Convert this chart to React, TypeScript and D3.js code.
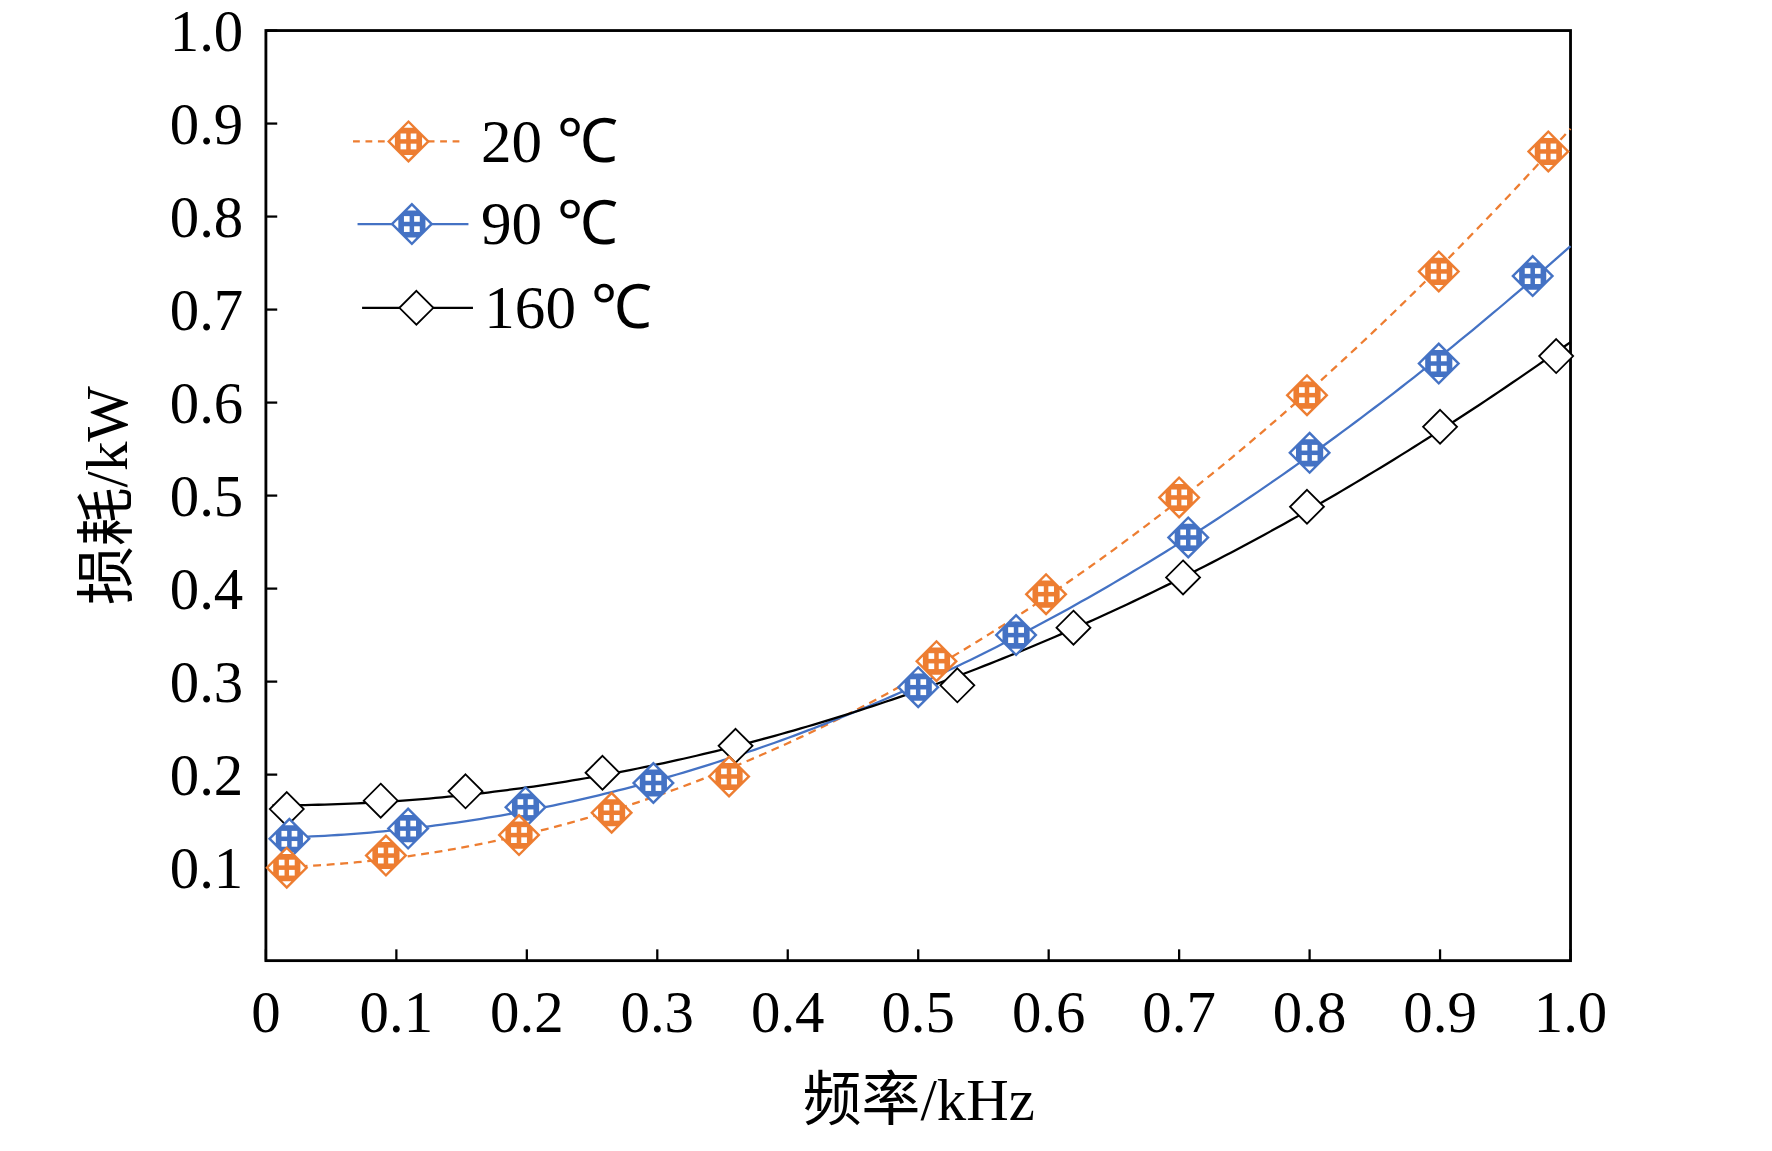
import * as React from 'react';
import * as d3 from 'd3';

// values
const x20 = [0.016, 0.092, 0.194, 0.265, 0.355, 0.514, 0.598, 0.700, 0.798, 0.899, 0.983];
const y20 = [0.100, 0.113, 0.135, 0.159, 0.198, 0.322, 0.394, 0.498, 0.608, 0.741, 0.870];
const x90 = [0.018, 0.109, 0.199, 0.297, 0.500, 0.575, 0.707, 0.800, 0.899, 0.971];
const y90 = [0.131, 0.142, 0.165, 0.191, 0.294, 0.350, 0.455, 0.546, 0.642, 0.736];
const x160 = [0.016, 0.088, 0.153, 0.258, 0.360, 0.530, 0.619, 0.703, 0.798, 0.900, 0.989];
const y160 = [0.163, 0.172, 0.182, 0.202, 0.231, 0.296, 0.358, 0.412, 0.488, 0.574, 0.650];
const xTicks = [0, 0.1, 0.2, 0.3, 0.4, 0.5, 0.6, 0.7, 0.8, 0.9, 1.0];
const yTicks = [0.1, 0.2, 0.3, 0.4, 0.5, 0.6, 0.7, 0.8, 0.9, 1.0];
const legendLabels = ['20 ℃', '90 ℃', '160 ℃'];

const serif = '"Liberation Serif", "Times New Roman", serif';

// quadratic least-squares trend line, like the spreadsheet trendline
function quadFit(xs: number[], ys: number[]) {
    const n = xs.length;
    let s = [0, 0, 0, 0, 0], t = [0, 0, 0];
    for (let i = 0; i < n; i++) {
        for (let k = 0; k < 5; k++) s[k] += Math.pow(xs[i], k);
        for (let k = 0; k < 3; k++) t[k] += ys[i] * Math.pow(xs[i], k);
    }
    const A = [[s[0], s[1], s[2], t[0]], [s[1], s[2], s[3], t[1]], [s[2], s[3], s[4], t[2]]];
    for (let i = 0; i < 3; i++) {
        for (let j = i + 1; j < 3; j++) {
            const f = A[j][i] / A[i][i];
            for (let k = i; k < 4; k++) A[j][k] -= f * A[i][k];
        }
    }
    const c = [0, 0, 0];
    for (let i = 2; i >= 0; i--) {
        let v = A[i][3];
        for (let k = i + 1; k < 3; k++) v -= A[i][k] * c[k];
        c[i] = v / A[i][i];
    }
    return (x: number) => c[0] + c[1] * x + c[2] * x * x;
}

const Arrow: React.FC<{ x: number; y: number; color: string }> = ({ x, y, color }) => {
    const r = 19;
    return (
        <g transform={`translate(${x},${y})`}>
            <path d={`M0,${-r}L${r},0L0,${r}L${-r},0Z`} fill={color} />
            <rect x={-7} y={-7} width={5} height={5} fill="#fff" />
            <rect x={2} y={-7} width={5} height={5} fill="#fff" />
            <rect x={-7} y={2} width={5} height={5} fill="#fff" />
            <rect x={2} y={2} width={5} height={5} fill="#fff" />
            <path d={`M-4,${-r + 7}L0,${-r + 3}L4,${-r + 7}Z`} fill="#fff" />
            <path d={`M-4,${r - 7}L0,${r - 3}L4,${r - 7}Z`} fill="#fff" />
            <path d={`M${-r + 7},-4L${-r + 3},0L${-r + 7},4Z`} fill="#fff" />
            <path d={`M${r - 7},-4L${r - 3},0L${r - 7},4Z`} fill="#fff" />
        </g>
    );
};

const Hollow: React.FC<{ x: number; y: number }> = ({ x, y }) => (
    <path transform={`translate(${x},${y})`} d="M0,-15L15,0L0,15L-15,0Z" fill="#fff" stroke="#000" strokeWidth={1.6} />
);

const App: React.FC = () => {
    const xs = d3.scaleLinear().domain([0, 1]).range([235, 1388]);
    const ys = d3.scaleLinear().domain([0, 1]).range([849, 27]);
    const fineX = d3.range(0.005, 1.0001, 0.005);
    const line = (f: (x: number) => number) =>
        d3.line<number>().x(d => xs(d)).y(d => ys(f(d)))(fineX) as string;
    const f20 = quadFit(x20, y20), f90 = quadFit(x90, y90), f160 = quadFit(x160, y160);
    const orange = '#ED7D31', blue = '#4472C4';
    const legendY = [125, 198, 272];

    return (
        <svg width={1772} height={1151} style={{ display: 'block', margin: -8 }}>
            <rect width={1772} height={1151} fill="#fff" />
            <g transform="scale(1.1315)">
                <rect x={235} y={27} width={1153} height={822} fill="none" stroke="#000" strokeWidth={2.5} />
                {xTicks.map(t => (
                    <g key={'x' + t}>
                        <line x1={xs(t)} x2={xs(t)} y1={849} y2={839} stroke="#000" strokeWidth={2} />
                        <text x={xs(t)} y={912} textAnchor="middle" fontFamily={serif} fontSize={52}>
                            {t === 0 ? '0' : t.toFixed(1)}
                        </text>
                    </g>
                ))}
                {yTicks.map(t => (
                    <g key={'y' + t}>
                        <line x1={235} x2={245} y1={ys(t)} y2={ys(t)} stroke="#000" strokeWidth={2} />
                        <text x={215} y={ys(t) + 18} textAnchor="end" fontFamily={serif} fontSize={52}>{t.toFixed(1)}</text>
                    </g>
                ))}
                <text x={812} y={990} textAnchor="middle" fontSize={52}>
                    <tspan fontFamily='"Noto Sans CJK SC"'>频率</tspan>
                    <tspan fontFamily={serif}>/kHz</tspan>
                </text>
                <text transform="translate(112,438) rotate(-90)" textAnchor="middle" fontSize={52}>
                    <tspan fontFamily='"Noto Sans CJK SC"'>损耗</tspan>
                    <tspan fontFamily={serif}>/kW</tspan>
                </text>

                <path d={line(f20)} fill="none" stroke={orange} strokeWidth={2} strokeDasharray="7,5" />
                <path d={line(f90)} fill="none" stroke={blue} strokeWidth={2} />
                <path d={line(f160)} fill="none" stroke="#000" strokeWidth={2} />
                {x160.map((x, i) => <Hollow key={'c' + i} x={xs(x)} y={ys(y160[i])} />)}
                {x90.map((x, i) => <Arrow key={'b' + i} x={xs(x)} y={ys(y90[i])} color={blue} />)}
                {x20.map((x, i) => <Arrow key={'a' + i} x={xs(x)} y={ys(y20[i])} color={orange} />)}

                <line x1={312} x2={410} y1={legendY[0]} y2={legendY[0]} stroke={orange} strokeWidth={2} strokeDasharray="6,5" />
                <Arrow x={361} y={legendY[0]} color={orange} />
                <line x1={316} x2={414} y1={legendY[1]} y2={legendY[1]} stroke={blue} strokeWidth={2} />
                <Arrow x={364} y={legendY[1]} color={blue} />
                <line x1={320} x2={418} y1={legendY[2]} y2={legendY[2]} stroke="#000" strokeWidth={2} />
                <Hollow x={368} y={legendY[2]} />
                {legendLabels.map((l, i) => (
                    <text key={l} x={i === 2 ? 428 : 425} y={legendY[i] + 18} fontFamily={serif} fontSize={54}>{l}</text>
                ))}
            </g>
        </svg>
    );
};

export default App;
